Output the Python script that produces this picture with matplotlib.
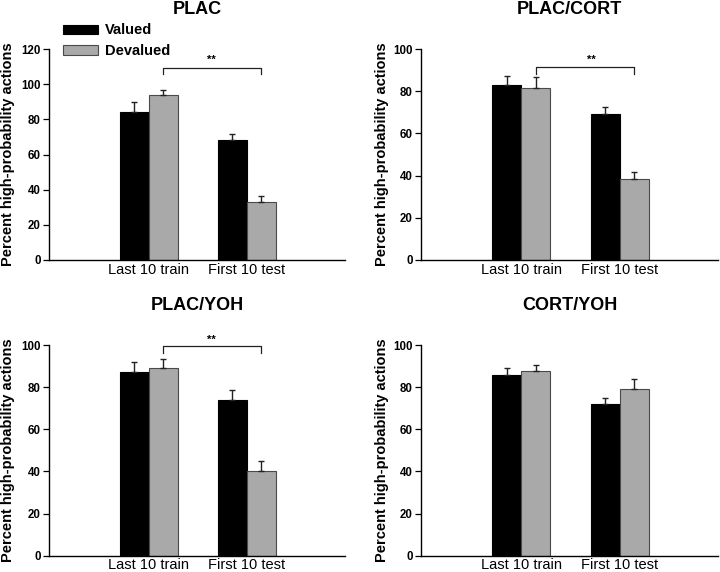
import matplotlib
matplotlib.use("Agg")
import matplotlib.pyplot as plt
import numpy as np
from matplotlib.patches import Patch

plt.rcParams['font.family'] = ['Liberation Sans', 'DejaVu Sans']

categories = ["Last 10 train", "First 10 test"]
series_names = ["Valued", "Devalued"]
panel_titles = ["PLAC", "PLAC/CORT", "PLAC/YOH", "CORT/YOH"]

plac_valued = [84.0, 68.0]
plac_valued_err = [6.0, 3.8]
plac_devalued = [93.7, 32.8]
plac_devalued_err = [3.0, 3.8]

placcort_valued = [82.8, 69.2]
placcort_valued_err = [4.6, 3.5]
placcort_devalued = [81.5, 38.4]
placcort_devalued_err = [5.1, 3.4]

placyoh_valued = [87.0, 73.7]
placyoh_valued_err = [4.8, 4.8]
placyoh_devalued = [89.2, 40.2]
placyoh_devalued_err = [4.0, 4.8]

cortyoh_valued = [85.8, 71.9]
cortyoh_valued_err = [3.2, 3.1]
cortyoh_devalued = [87.8, 79.0]
cortyoh_devalued_err = [2.9, 4.7]

yticks_120 = [0, 20, 40, 60, 80, 100, 120]
yticks_100 = [0, 20, 40, 60, 80, 100]

# significance brackets: (bracket y, drop, star x, star baseline y) or None
sig = [(109, 3.3, 0.64, 112), (91.6, 3.6, 0.71, 93.5), (99.3, 3.2, 0.64, 101.1), None]

panels = [
    (plac_valued, plac_valued_err, plac_devalued, plac_devalued_err, 120, yticks_120),
    (placcort_valued, placcort_valued_err, placcort_devalued, placcort_devalued_err, 100, yticks_100),
    (placyoh_valued, placyoh_valued_err, placyoh_devalued, placyoh_devalued_err, 100, yticks_100),
    (cortyoh_valued, cortyoh_valued_err, cortyoh_devalued, cortyoh_devalued_err, 100, yticks_100),
]

W, H = 720, 572
fig = plt.figure(figsize=(W / 100, H / 100), dpi=100)

# pixel boxes: left, right, top, bottom
boxes = [(49, 345, 49, 260), (421, 718, 49, 260),
         (49, 345, 345, 555.7), (421, 718, 345, 555.7)]
title_y = [10, 10, 306, 306]
ylabel_x = [8, 382, 8, 382]

black = "#000000"
gray = "#a9a9a9"
width = 0.296

for i, (box, data) in enumerate(zip(boxes, panels)):
    l, r, t, b = box
    ax = fig.add_axes([l / W, 1 - b / H, (r - l) / W, (b - t) / H])
    v, ve, d, de, ymax, yt = data
    x = np.arange(len(categories))
    ax.bar(x - width / 2, v, width, color=black, edgecolor=black, linewidth=0.8, zorder=2)
    ax.bar(x + width / 2, d, width, color=gray, edgecolor="#4a4a4a", linewidth=0.8, zorder=2)
    ax.errorbar(x - width / 2, v, yerr=[np.zeros(len(v)), ve], fmt='none',
                ecolor="#222222", elinewidth=1, capsize=2.3, capthick=1, zorder=3)
    ax.errorbar(x + width / 2, d, yerr=[np.zeros(len(d)), de], fmt='none',
                ecolor="#222222", elinewidth=1, capsize=2.3, capthick=1, zorder=3)
    ax.set_xlim(-1.02, 2.0)
    ax.set_ylim(0, ymax)
    ax.set_yticks(yt)
    ax.set_yticklabels([str(k) for k in yt], fontsize=8.3, fontweight='bold')
    ax.set_xticks(x)
    ax.set_xticklabels(categories, fontsize=10.5)
    ax.tick_params(axis='x', length=0, pad=2)
    ax.tick_params(axis='y', length=4, width=0.9, pad=2, direction='out')
    for s in ['top', 'right']:
        ax.spines[s].set_visible(False)
    for s in ['left', 'bottom']:
        ax.spines[s].set_linewidth(1.0)
    ax.patch.set_alpha(0)

    if sig[i] is not None:
        yb, drop, xs, ys = sig[i]
        x0, x1 = x[0] + width / 2, x[1] + width / 2
        ax.plot([x0, x0, x1, x1], [yb - drop, yb, yb, yb - drop], color="#222222",
                lw=0.9, clip_on=False)
        ax.text(xs, ys, "**", ha='center', va='baseline',
                fontsize=8, fontweight='bold')

    fig.text((l + r) / 2 / W, 1 - title_y[i] / H, panel_titles[i], ha='center', va='center',
             fontsize=13, fontweight='bold')
    fig.text(ylabel_x[i] / W, 1 - (t + b) / 2 / H, "Percent high-probability actions",
             rotation=90, ha='center', va='center', fontsize=10.5, fontweight='bold')

handles = [Patch(facecolor=black, edgecolor=black, lw=0.8),
           Patch(facecolor=gray, edgecolor="#4a4a4a", lw=0.8)]
leg = fig.legend(handles, series_names, loc='upper left',
                 bbox_to_anchor=(62 / W, 1 - 22 / H), frameon=False,
                 prop={'weight': 'bold', 'size': 10.5}, handlelength=2.35,
                 handleheight=0.6, handletextpad=0.5, labelspacing=0.45,
                 borderaxespad=0, borderpad=0.1)

fig.savefig("out.png", dpi=100)
